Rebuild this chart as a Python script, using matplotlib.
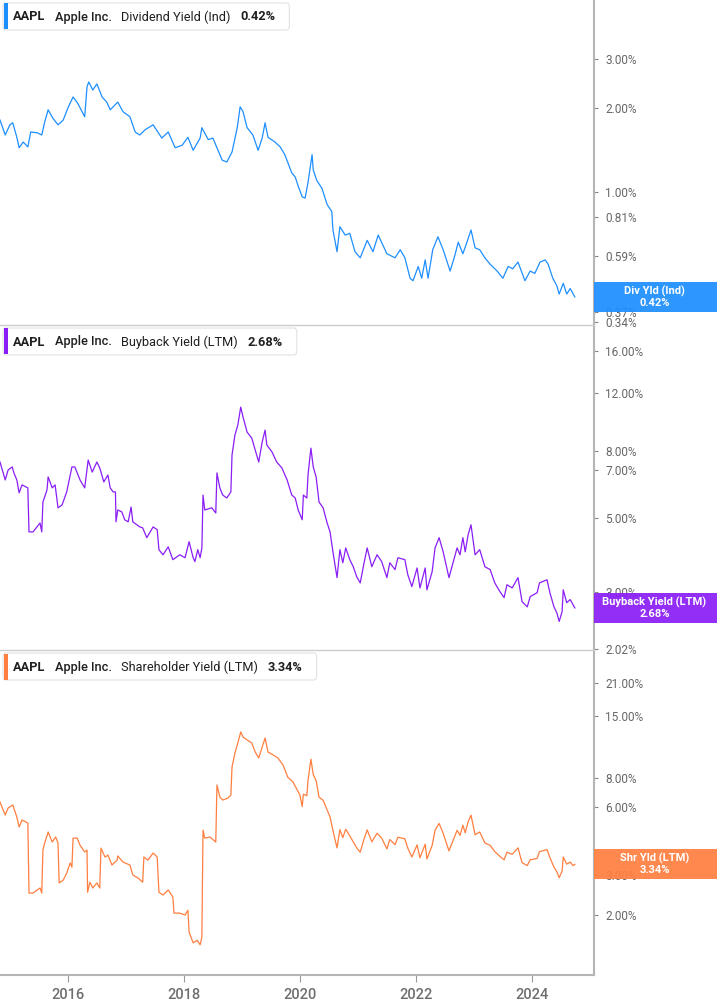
import matplotlib
matplotlib.use("Agg")
import matplotlib.pyplot as plt
from matplotlib.patches import Rectangle, FancyBboxPatch
from matplotlib.ticker import FixedLocator, FixedFormatter, NullLocator

plt.rcParams['font.family'] = ['Roboto', 'DejaVu Sans']

# ---- data (decimal years, yield in %) ----
div_dates = [2014.82, 2014.91, 2014.99, 2015.04, 2015.11, 2015.15, 2015.22, 2015.30, 2015.35, 2015.46,
             2015.54, 2015.59, 2015.65, 2015.73, 2015.82, 2015.91, 2015.99, 2016.08, 2016.16, 2016.28,
             2016.32, 2016.35, 2016.42, 2016.49, 2016.58, 2016.66, 2016.72, 2016.85, 2016.94, 2017.06,
             2017.15, 2017.23, 2017.32, 2017.46, 2017.61, 2017.72, 2017.84, 2017.96, 2018.06, 2018.15,
             2018.27, 2018.30, 2018.41, 2018.49, 2018.65, 2018.73, 2018.82, 2018.91, 2018.96, 2019.01,
             2019.08, 2019.18, 2019.27, 2019.34, 2019.39, 2019.44, 2019.56, 2019.65, 2019.73, 2019.85,
             2019.91, 2019.96, 2020.03, 2020.08, 2020.13, 2020.20, 2020.22, 2020.28, 2020.37, 2020.46,
             2020.54, 2020.56, 2020.63, 2020.68, 2020.77, 2020.85, 2020.94, 2021.03, 2021.15, 2021.25,
             2021.34, 2021.49, 2021.63, 2021.72, 2021.80, 2021.89, 2021.94, 2022.03, 2022.09, 2022.15,
             2022.20, 2022.28, 2022.37, 2022.46, 2022.58, 2022.66, 2022.72, 2022.80, 2022.87, 2022.94,
             2023.01, 2023.09, 2023.18, 2023.27, 2023.39, 2023.49, 2023.58, 2023.66, 2023.75, 2023.87,
             2023.96, 2024.04, 2024.13, 2024.22, 2024.27, 2024.35, 2024.42, 2024.46, 2024.53, 2024.59,
             2024.65, 2024.73]
div_yield = [1.81, 1.60, 1.74, 1.77, 1.57, 1.44, 1.51, 1.45, 1.64, 1.63,
             1.60, 1.78, 1.97, 1.84, 1.74, 1.81, 2.00, 2.19, 2.08, 1.86,
             2.38, 2.48, 2.32, 2.44, 2.19, 2.10, 1.97, 2.10, 1.94, 1.86,
             1.64, 1.60, 1.67, 1.74, 1.56, 1.64, 1.44, 1.47, 1.57, 1.41,
             1.56, 1.70, 1.54, 1.56, 1.30, 1.28, 1.39, 1.70, 2.02, 1.94,
             1.70, 1.60, 1.41, 1.56, 1.77, 1.57, 1.51, 1.45, 1.36, 1.17,
             1.13, 1.05, 0.96, 0.95, 1.08, 1.36, 1.20, 1.10, 1.03, 0.90,
             0.85, 0.73, 0.61, 0.75, 0.70, 0.71, 0.61, 0.58, 0.67, 0.61,
             0.70, 0.60, 0.58, 0.62, 0.58, 0.49, 0.48, 0.54, 0.49, 0.57,
             0.49, 0.62, 0.69, 0.62, 0.52, 0.59, 0.66, 0.60, 0.66, 0.73,
             0.63, 0.62, 0.58, 0.55, 0.52, 0.49, 0.54, 0.53, 0.56, 0.48,
             0.52, 0.51, 0.56, 0.57, 0.55, 0.49, 0.46, 0.43, 0.47, 0.43,
             0.45, 0.42]

bb_dates = [2014.82, 2014.91, 2014.96, 2015.03, 2015.06, 2015.11, 2015.15, 2015.20, 2015.30, 2015.32,
            2015.39, 2015.51, 2015.54, 2015.56, 2015.63, 2015.65, 2015.72, 2015.77, 2015.82, 2015.89,
            2015.97, 2016.06, 2016.11, 2016.20, 2016.28, 2016.34, 2016.41, 2016.49, 2016.54, 2016.61,
            2016.68, 2016.72, 2016.77, 2016.81, 2016.82, 2016.85, 2016.92, 2016.97, 2017.03, 2017.08,
            2017.11, 2017.23, 2017.28, 2017.35, 2017.46, 2017.53, 2017.56, 2017.63, 2017.72, 2017.80,
            2017.92, 2018.01, 2018.08, 2018.15, 2018.18, 2018.23, 2018.27, 2018.30, 2018.32, 2018.35,
            2018.47, 2018.54, 2018.56, 2018.61, 2018.66, 2018.73, 2018.80, 2018.82, 2018.87, 2018.92,
            2018.97, 2019.01, 2019.08, 2019.16, 2019.22, 2019.28, 2019.34, 2019.39, 2019.42, 2019.51,
            2019.59, 2019.68, 2019.77, 2019.85, 2019.91, 2019.96, 2020.03, 2020.05, 2020.11, 2020.13,
            2020.18, 2020.22, 2020.27, 2020.32, 2020.39, 2020.46, 2020.51, 2020.56, 2020.63, 2020.68,
            2020.73, 2020.78, 2020.85, 2020.91, 2020.97, 2021.03, 2021.09, 2021.15, 2021.23, 2021.32,
            2021.40, 2021.49, 2021.54, 2021.63, 2021.68, 2021.80, 2021.85, 2021.92, 2022.01, 2022.06,
            2022.15, 2022.18, 2022.27, 2022.32, 2022.39, 2022.46, 2022.56, 2022.63, 2022.70, 2022.75,
            2022.80, 2022.84, 2022.89, 2022.94, 2023.01, 2023.09, 2023.18, 2023.27, 2023.35, 2023.44,
            2023.51, 2023.56, 2023.65, 2023.75, 2023.82, 2023.91, 2023.96, 2024.08, 2024.12, 2024.25,
            2024.30, 2024.37, 2024.42, 2024.46, 2024.51, 2024.53, 2024.59, 2024.65, 2024.70, 2024.73]
bb_yield = [7.40, 6.53, 7.00, 7.15, 6.86, 6.53, 5.97, 6.31, 6.18, 4.55,
            4.55, 4.84, 4.55, 5.60, 6.09, 6.67, 6.18, 6.31, 5.38, 5.49,
            6.01, 7.15, 7.15, 6.53, 6.18, 7.50, 6.90, 7.40, 7.10, 6.44,
            6.76, 6.18, 6.01, 6.01, 4.88, 5.30, 5.23, 4.95, 4.88, 5.41,
            4.88, 4.71, 4.68, 4.37, 4.71, 4.62, 4.02, 3.88, 4.10, 3.75,
            3.88, 3.80, 4.25, 3.80, 3.70, 4.02, 3.80, 4.07, 5.88, 5.30,
            5.38, 5.19, 6.86, 6.18, 5.88, 5.76, 6.01, 7.77, 8.93, 9.57,
            10.84, 10.11, 9.11, 8.74, 8.04, 7.40, 8.50, 9.24, 8.33, 7.93,
            7.40, 7.10, 6.53, 5.88, 5.76, 5.30, 4.95, 5.88, 5.76, 6.76,
            8.15, 7.15, 6.67, 5.60, 5.38, 4.84, 4.55, 3.96, 3.31, 4.02,
            3.67, 4.07, 3.75, 3.57, 3.33, 3.19, 3.62, 4.07, 3.57, 3.88,
            3.70, 3.31, 3.67, 3.50, 3.80, 3.75, 3.38, 3.11, 3.54, 3.08,
            3.54, 3.04, 3.45, 4.07, 4.37, 3.96, 3.31, 3.67, 4.07, 3.88,
            4.37, 3.96, 4.46, 4.78, 3.88, 4.02, 3.57, 3.50, 3.19, 3.00,
            2.88, 3.15, 3.08, 3.31, 2.80, 2.70, 2.90, 2.98, 3.19, 3.26,
            2.98, 2.70, 2.59, 2.44, 2.61, 3.04, 2.78, 2.84, 2.74, 2.68]

shr_dates = [2014.82, 2014.91, 2014.96, 2015.04, 2015.11, 2015.15, 2015.20, 2015.30, 2015.32, 2015.39,
             2015.51, 2015.54, 2015.56, 2015.59, 2015.65, 2015.72, 2015.78, 2015.82, 2015.84, 2015.91,
             2015.97, 2016.03, 2016.06, 2016.08, 2016.15, 2016.20, 2016.28, 2016.32, 2016.33, 2016.37,
             2016.42, 2016.49, 2016.54, 2016.56, 2016.63, 2016.68, 2016.75, 2016.84, 2016.85, 2016.94,
             2017.06, 2017.11, 2017.20, 2017.28, 2017.30, 2017.37, 2017.46, 2017.53, 2017.56, 2017.63,
             2017.72, 2017.80, 2017.82, 2017.92, 2018.01, 2018.06, 2018.08, 2018.15, 2018.22, 2018.27,
             2018.30, 2018.32, 2018.35, 2018.44, 2018.54, 2018.56, 2018.61, 2018.66, 2018.75, 2018.80,
             2018.82, 2018.87, 2018.92, 2018.97, 2019.01, 2019.08, 2019.16, 2019.22, 2019.28, 2019.39,
             2019.44, 2019.53, 2019.61, 2019.70, 2019.78, 2019.87, 2019.99, 2020.03, 2020.05, 2020.11,
             2020.13, 2020.18, 2020.22, 2020.27, 2020.32, 2020.39, 2020.46, 2020.51, 2020.56, 2020.63,
             2020.68, 2020.73, 2020.78, 2020.85, 2020.91, 2020.97, 2021.03, 2021.09, 2021.15, 2021.23,
             2021.32, 2021.40, 2021.49, 2021.54, 2021.63, 2021.68, 2021.80, 2021.85, 2021.92, 2022.01,
             2022.06, 2022.15, 2022.18, 2022.27, 2022.32, 2022.39, 2022.46, 2022.56, 2022.63, 2022.70,
             2022.75, 2022.80, 2022.84, 2022.89, 2022.94, 2023.01, 2023.09, 2023.18, 2023.27, 2023.35,
             2023.44, 2023.51, 2023.56, 2023.65, 2023.75, 2023.82, 2023.91, 2023.96, 2024.08, 2024.12,
             2024.25, 2024.30, 2024.37, 2024.42, 2024.46, 2024.51, 2024.53, 2024.59, 2024.65, 2024.70,
             2024.73]
shr_yield = [6.28, 5.51, 5.91, 6.10, 5.40, 4.88, 5.24, 5.08, 2.50, 2.50,
             2.63, 2.50, 3.86, 4.15, 4.64, 4.19, 4.41, 4.15, 2.77, 2.85,
             3.06, 3.39, 3.25, 4.36, 4.36, 4.06, 3.79, 3.86, 2.52, 2.79,
             2.63, 2.77, 2.63, 3.94, 3.60, 3.67, 3.32, 3.49, 3.64, 3.42,
             3.32, 3.00, 2.91, 2.79, 3.60, 3.49, 3.75, 3.60, 2.52, 2.45,
             2.58, 2.40, 2.04, 2.04, 2.00, 2.10, 1.68, 1.51, 1.55, 1.48,
             1.60, 4.73, 4.36, 4.41, 4.19, 7.47, 6.61, 6.41, 6.54, 6.75,
             8.96, 10.32, 11.43, 12.77, 12.14, 11.78, 11.43, 10.43, 9.82, 12.02,
             10.43, 10.12, 9.82, 9.14, 8.09, 7.70, 6.75, 6.00, 6.80, 6.70,
             7.80, 9.70, 8.30, 7.80, 6.60, 6.40, 5.80, 5.40, 4.70, 3.95,
             4.75, 4.38, 4.77, 4.46, 4.20, 3.95, 3.78, 4.27, 4.74, 4.20,
             4.58, 4.36, 3.91, 4.30, 4.08, 4.40, 4.33, 3.94, 3.60, 4.07,
             3.57, 4.10, 3.53, 4.05, 4.72, 5.06, 4.58, 3.83, 4.25, 4.72,
             4.48, 4.97, 4.60, 5.14, 5.50, 4.51, 4.64, 4.15, 4.05, 3.80,
             3.62, 3.50, 3.78, 3.70, 3.95, 3.40, 3.30, 3.50, 3.55, 3.80,
             3.88, 3.58, 3.25, 3.10, 2.92, 3.12, 3.60, 3.35, 3.42, 3.30,
             3.34]

year_ticks = [2016, 2018, 2020, 2022, 2024]

panels = [
    dict(name='Dividend Yield (Ind)', badge='Div Yld (Ind)', color='#1e8fff',
         x=div_dates, y=div_yield, ticks=[0.34, 0.37, 0.59, 0.81, 1.0, 2.0, 3.0], ylim=(0.333, 4.88)),
    dict(name='Buyback Yield (LTM)', badge='Buyback Yield (LTM)', color='#8a1ef5',
         x=bb_dates, y=bb_yield, ticks=[2.02, 3.0, 5.0, 7.0, 8.0, 12.0, 16.0], ylim=(2.0, 19.2)),
    dict(name='Shareholder Yield (LTM)', badge='Shr Yld (LTM)', color='#ff7f40',
         x=shr_dates, y=shr_yield, ticks=[2.0, 3.0, 6.0, 8.0, 15.0, 21.0], ylim=(1.09, 29.3)),
]

W, H = 717, 1005
fig = plt.figure(figsize=(W / 100, H / 100), dpi=100)
renderer = fig.canvas.get_renderer()


def fx(px):
    return px / W


def fy(px):
    return 1 - px / H


plot_right = 594
panel_h = 325
xlim = (2014.82, 2016 + (plot_right - 68.5) / 58)

for i, p in enumerate(panels):
    top = i * panel_h
    ax = fig.add_axes([0, fy(top + panel_h), fx(plot_right), panel_h / H])
    ax.plot(p['x'], p['y'], color=p['color'], lw=0.9)
    ax.set_yscale('log')
    ax.set_ylim(*p['ylim'])
    ax.set_xlim(*xlim)
    ax.yaxis.tick_right()
    ax.yaxis.set_major_locator(FixedLocator(p['ticks']))
    ax.yaxis.set_major_formatter(FixedFormatter(['%.2f%%' % t for t in p['ticks']]))
    ax.yaxis.set_minor_locator(NullLocator())
    ax.tick_params(axis='y', direction='out', length=3, width=0.8, color='#888888',
                   labelcolor='#666666', labelsize=8.5, pad=5)
    ax.spines['left'].set_visible(False)
    ax.spines['right'].set_color('#b5b5b5')
    ax.spines['right'].set_linewidth(1.5)
    if i == 0:
        ax.spines['top'].set_visible(False)
    else:
        ax.spines['top'].set_color('#cccccc')
        ax.spines['top'].set_linewidth(1.0)
    if i < 2:
        ax.spines['bottom'].set_visible(False)
        ax.set_xticks([])
    else:
        ax.spines['bottom'].set_color('#b5b5b5')
        ax.spines['bottom'].set_linewidth(1.5)
        ax.set_xticks(year_ticks)
        ax.set_xticklabels([str(t) for t in year_ticks])
        ax.xaxis.set_minor_locator(NullLocator())
        ax.tick_params(axis='x', direction='out', length=5, width=0.8, color='#999999',
                       labelcolor='#6e6e6e', labelsize=10.5, pad=4)
        for lbl in ax.get_xticklabels():
            lbl.set_fontweight('medium')

    # value badge on the right axis
    last = p['y'][-1]
    yd = ax.transData.transform((xlim[0], last))[1]
    fig.add_artist(Rectangle((fx(plot_right), (yd - 15) / H), (W - plot_right) / W, 30 / H,
                             transform=fig.transFigure, facecolor=p['color'], edgecolor='none',
                             alpha=0.93, zorder=5))
    cx = fx((plot_right + W) / 2 - 1)
    fig.text(cx, (yd + 6) / H, p['badge'], ha='center', va='center', color='white',
             fontsize=8, fontweight='bold', zorder=6)
    fig.text(cx, (yd - 6) / H, '%.2f%%' % last, ha='center', va='center', color='white',
             fontsize=8, fontweight='bold', zorder=6)

    # legend box at top-left
    parts = [('AAPL', 'bold'), ('Apple Inc.', 'medium'), (p['name'], 'normal'),
             ('%.2f%%' % last, 'bold')]
    x = 13
    for txt, weight in parts:
        t = fig.text(fx(x), fy(top + 17), txt, ha='left', va='center', fontsize=9.2,
                     fontweight=weight, color='#1f1f1f', zorder=6)
        bb = t.get_window_extent(renderer)
        x = x + bb.width + 9.5
    box_right = x - 9.5 + 14
    fig.add_artist(FancyBboxPatch((fx(3), fy(top + 30)), fx(box_right - 3), 27 / H,
                                  boxstyle='round,pad=0,rounding_size=0.004',
                                  transform=fig.transFigure, facecolor='white',
                                  edgecolor='#e2e2e2', lw=0.8, zorder=4))
    fig.add_artist(Rectangle((fx(4), fy(top + 29.5)), fx(3.5), 26 / H,
                             transform=fig.transFigure, facecolor=p['color'],
                             edgecolor='none', zorder=5))

fig.savefig('out.png', dpi=100)
